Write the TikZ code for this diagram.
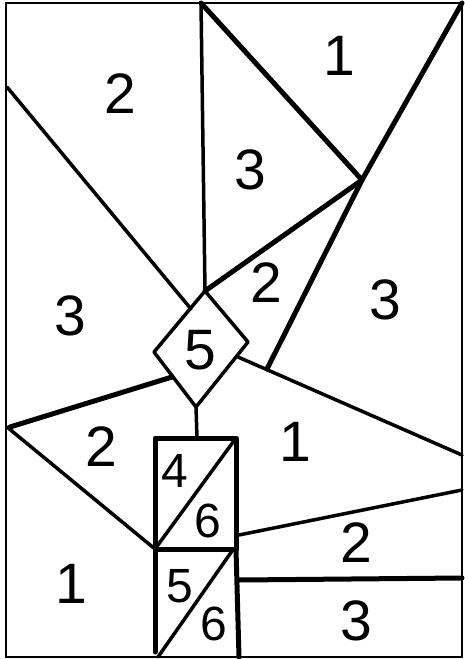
\documentclass[tikz,border=0pt]{standalone}
\usepackage{fontspec}
\setmainfont{Liberation Sans}
\begin{document}
\begin{tikzpicture}[x=1pt,y=-1pt,
  frame/.style={line width=2pt},
  edge/.style={line width=3.5pt,line cap=round,line join=round},
  bold/.style={line width=5pt,line cap=round,line join=round},
  num/.style={font=\fontsize{57}{57}\selectfont,inner sep=0pt},
  small/.style={font=\fontsize{48}{48}\selectfont,inner sep=0pt}]
\useasboundingbox (0,0) rectangle (464,659);
% frame corners
\coordinate (TL) at (6,3);
\coordinate (TR) at (462,3);
\coordinate (BR) at (462,657);
\coordinate (BL) at (6,657);
\draw[frame] (TL) -- (TR) -- (BR) -- (BL) -- cycle;
% key points
\coordinate (P) at (362,180);
\coordinate (top1) at (201,3);
\coordinate (dT) at (205,291);
\coordinate (dL) at (154,352);
\coordinate (dR) at (248,342);
\coordinate (dB) at (196,407);
\coordinate (lA) at (7,87);
\coordinate (lAe) at (191,309);
\coordinate (rC) at (238,357);
\coordinate (rCe) at (462,455);
\coordinate (Pe) at (267,369);
\coordinate (lB) at (10,427);
\coordinate (lBe) at (172,377);
\coordinate (lC) at (7,427);
% boxes
\coordinate (b1) at (155,438);
\coordinate (b2) at (236,438);
\coordinate (b3) at (236,549);
\coordinate (b4) at (155,549);
\coordinate (c3) at (239,657);
\coordinate (c4) at (155,652);
\coordinate (c5) at (158,657);
\coordinate (c6) at (232,551);
\coordinate (s1) at (239,535);
\coordinate (s1e) at (462,490);
\coordinate (s2) at (239,580);
\coordinate (s2e) at (462,578);
\coordinate (dBs) at (197,438);
% lines
\draw[edge] (top1) -- (dT);
\draw[bold] (top1) -- (P);
\draw[bold] (TR) -- (P);
\draw[bold] (P) -- (dT);
\draw[bold] (P) -- (Pe);
\draw[edge] (lA) -- (lAe);
\draw[edge] (rC) -- (rCe);
\draw[bold] (lB) -- (lBe);
\draw[edge] (lC) -- (b4);
\draw[edge] (dT) -- (dR) -- (dB) -- (dL) -- cycle;
\draw[edge] (dB) -- (dBs);
\draw[bold] (b1) -- (b2) -- (b3) -- (b4) -- cycle;
\draw[edge] (b4) -- (b2);
\draw[bold] (b4) -- (c4);
\draw[bold] (b3) -- (c3);
\draw[edge] (c6) -- (c5);
\draw[edge] (s1) -- (s1e);
\draw[bold] (s2) -- (s2e);
% labels
\node[num] (n1) at (120,94) {2};
\node[num] (n2) at (339,56) {1};
\node[num] (n3) at (250,170) {3};
\node[num] (n4) at (70,316) {3};
\node[num] (n5) at (266,283) {2};
\node[num] (n6) at (385,300) {3};
\node[num] (n7) at (200,350) {5};
\node[num] (n8) at (101,447) {2};
\node[num] (n9) at (295,442) {1};
\node[small] (n10) at (175,471) {4};
\node[small] (n11) at (208,521) {6};
\node[num] (n12) at (71,584) {1};
\node[num] (n13) at (356,543) {2};
\node[small] (n14) at (180,586) {5};
\node[small] (n15) at (214,624) {6};
\node[num] (n16) at (356,621) {3};
\end{tikzpicture}
\end{document}
